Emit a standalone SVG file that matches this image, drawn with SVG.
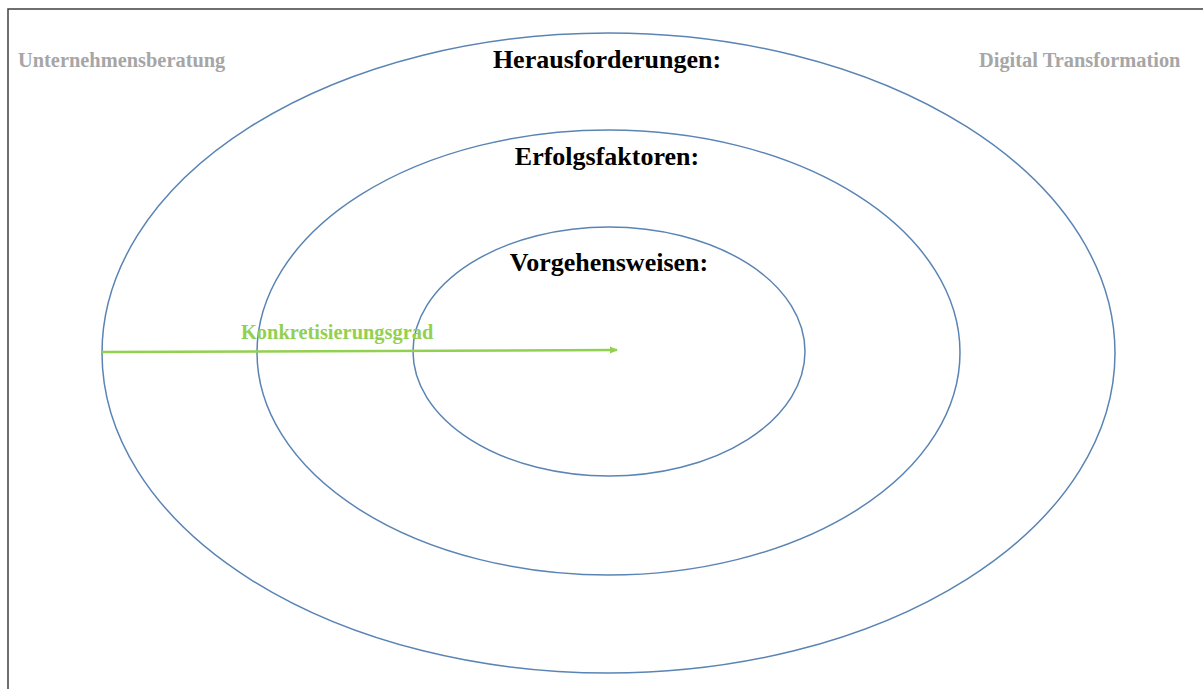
<svg xmlns="http://www.w3.org/2000/svg" width="1203" height="689" viewBox="0 0 1203 689">
<style>
.ring{fill:none;stroke:#5A84B4;stroke-width:1.5}
.head{font-family:"Liberation Serif","Times New Roman",serif;font-weight:bold;font-size:26px;fill:#000;text-anchor:middle}
.side{font-family:"Liberation Serif","Times New Roman",serif;font-weight:bold;font-size:20.4px;fill:#A6A6A6}
.green{font-family:"Liberation Serif","Times New Roman",serif;font-weight:bold;font-size:20.4px;fill:#92D050}
</style>
<defs>
<marker id="ah" markerWidth="8" markerHeight="8" refX="7" refY="4" orient="auto" markerUnits="userSpaceOnUse">
<path d="M0,0.5 L8,4 L0,7.5 Z" fill="#92D050"/>
</marker>
</defs>
<rect x="8" y="9" width="1210" height="700" fill="#fff" stroke="#404040" stroke-width="1.5"/>
<g id="outer"><ellipse class="ring" cx="608.5" cy="353" rx="506.5" ry="320"/><text class="head" x="607" y="68">Herausforderungen:</text></g>
<g id="middle"><ellipse class="ring" cx="608.5" cy="352.5" rx="351.5" ry="222.5"/><text class="head" x="607" y="165">Erfolgsfaktoren:</text></g>
<g id="inner"><ellipse class="ring" cx="609" cy="351.5" rx="196" ry="124.5"/><text class="head" x="609" y="271">Vorgehensweisen:</text></g>
<g id="label-left"><text class="side" x="18" y="67">Unternehmensberatung</text></g>
<g id="label-right"><text class="side" x="979" y="67">Digital Transformation</text></g>
<g id="connectors">
<line x1="102" y1="352" x2="617" y2="350" stroke="#92D050" stroke-width="2.5" marker-end="url(#ah)"/>
<text class="green" x="241" y="339">Konkretisierungsgrad</text>
</g>
</svg>
